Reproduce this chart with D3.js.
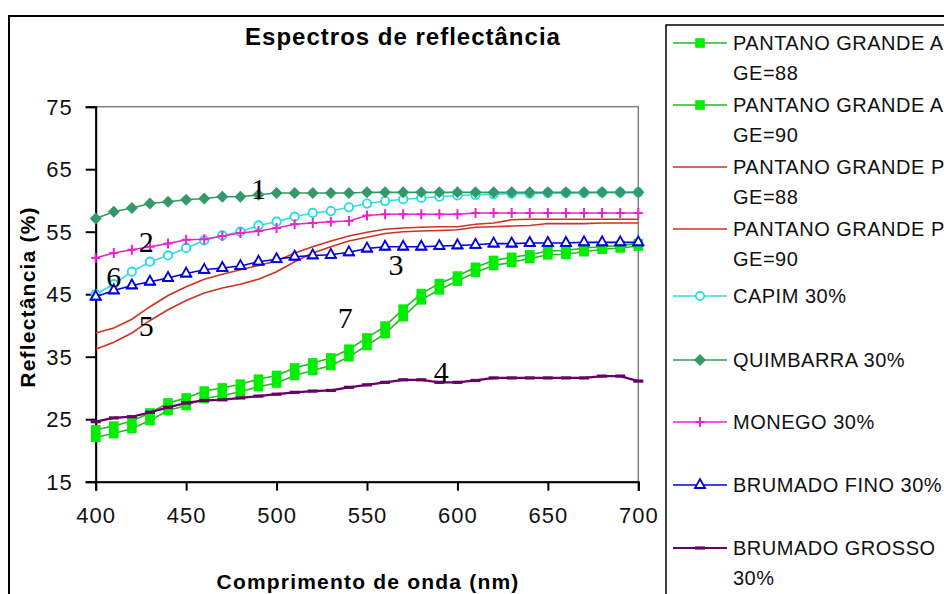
<!DOCTYPE html>
<html><head><meta charset="utf-8">
<script src="https://cdn.jsdelivr.net/npm/d3@7/dist/d3.min.js"></script>
<style>
html,body{margin:0;padding:0;background:#fff;}
svg{display:block;}
</style></head>
<body>
<svg id="chart" width="944" height="594"></svg>
<script>
// ---------------- DATA ----------------
const wavelengths = [400,410,420,430,440,450,460,470,480,490,500,510,520,530,540,550,560,570,580,590,600,610,620,630,640,650,660,670,680,690,700];
const pantanoA88 = [23.3,23.9,24.7,26.0,27.6,28.4,29.5,30.0,30.6,31.4,32.0,33.2,34.0,34.8,36.2,38.0,39.9,42.6,45.1,46.7,47.9,49.3,50.4,50.9,51.3,51.9,52.0,52.4,52.6,52.8,53.1];
const pantanoA90 = [22.1,22.7,23.5,24.8,26.4,27.2,28.3,28.8,29.4,30.2,30.8,32.0,32.8,33.6,35.0,36.8,38.7,41.4,44.1,45.7,47.1,48.5,49.6,50.1,50.7,51.3,51.4,51.8,52.2,52.4,52.7];
const pantanoP88 = [38.8,39.6,41.0,43.0,44.8,46.2,47.4,48.2,48.9,49.6,50.3,51.6,52.6,53.5,54.3,54.9,55.4,55.6,55.7,55.8,55.8,56.2,56.4,56.9,57.0,57.0,57.0,57.0,57.0,57.0,57.0];
const pantanoP90 = [36.2,37.3,38.8,40.8,42.5,44.0,45.2,46.0,46.6,47.4,48.6,50.2,51.6,52.6,53.5,54.1,54.7,55.0,55.1,55.2,55.3,55.7,55.8,55.9,56.0,56.3,56.3,56.3,56.4,56.4,56.4];
const capim = [45.0,46.6,48.6,50.2,51.2,52.4,53.6,54.4,55.0,56.0,56.6,57.4,58.0,58.3,58.9,59.5,59.9,60.2,60.4,60.6,60.8,60.9,61.0,61.1,61.1,61.2,61.2,61.2,61.3,61.3,61.3];
const quimbarra = [57.1,58.2,58.8,59.5,59.8,60.1,60.3,60.6,60.6,60.9,61.2,61.2,61.2,61.2,61.2,61.3,61.3,61.3,61.3,61.3,61.3,61.3,61.3,61.3,61.3,61.3,61.3,61.3,61.3,61.3,61.3];
const monego = [50.8,51.6,52.1,52.6,53.1,53.7,53.8,54.3,54.8,55.1,55.6,56.2,56.4,56.6,56.7,57.6,57.8,57.8,57.8,57.8,57.8,58.0,58.0,58.0,58.0,58.0,58.0,58.0,58.0,58.0,58.0];
const brumadoFino = [44.6,45.6,46.4,47.0,47.6,48.3,48.9,49.2,49.5,50.2,50.6,51.0,51.2,51.3,51.7,52.3,52.6,52.6,52.6,52.7,52.8,52.9,53.1,53.1,53.2,53.2,53.2,53.3,53.3,53.3,53.3];
const brumadoGrosso = [24.6,25.2,25.4,26.1,26.9,27.6,28.0,28.1,28.4,28.7,29.0,29.3,29.5,29.6,30.1,30.5,30.9,31.3,31.3,30.9,30.9,31.2,31.6,31.6,31.6,31.6,31.6,31.6,31.9,31.9,31.1];

const seriesNames = [["PANTANO GRANDE A","GE=88"],["PANTANO GRANDE A","GE=90"],["PANTANO GRANDE P","GE=88"],["PANTANO GRANDE P","GE=90"],["CAPIM 30%"],["QUIMBARRA 30%"],["MONEGO 30%"],["BRUMADO FINO 30%"],["BRUMADO GROSSO","30%"]];
const yTicks = [15,25,35,45,55,65,75];
const xTicks = [400,450,500,550,600,650,700];
const curveLabels = ["1","2","3","4","5","6","7"];
const curveLabelPos = [[490,61.9],[428,53.4],[566,49.8],[591,32.7],[428,40.0],[410,47.8],[538,41.2]];

// ---------------- STYLES ----------------
const styles = [
  {color:"#00ee00", line:"#22bb22", marker:"square"},
  {color:"#00ee00", line:"#22bb22", marker:"square"},
  {color:"#cc3322", line:"#cc3322", marker:"none"},
  {color:"#cc3322", line:"#cc3322", marker:"none"},
  {color:"#22dddd", line:"#33dddd", marker:"circle"},
  {color:"#339966", line:"#339966", marker:"diamond"},
  {color:"#ee22cc", line:"#ee22cc", marker:"plus"},
  {color:"#0000dd", line:"#0000dd", marker:"triangle"},
  {color:"#660066", line:"#660066", marker:"dash"}
];
const allSeries = [pantanoA88,pantanoA90,pantanoP88,pantanoP90,capim,quimbarra,monego,brumadoFino,brumadoGrosso];

const svg = d3.select("#chart");
const FONT = "'Liberation Sans', Arial, sans-serif";

// outer frame
svg.append("rect").attr("x",9).attr("y",16).attr("width",960).attr("height",620)
  .attr("fill","#fff").attr("stroke","#000").attr("stroke-width",2);

const x = d3.scaleLinear().domain([400,700]).range([95.7,638.3]);
const y = d3.scaleLinear().domain([15,75]).range([481.7,106.7]);

// plot area border (gray top/right)
svg.append("rect").attr("x",x(400)).attr("y",y(75)).attr("width",x(700)-x(400)).attr("height",y(15)-y(75))
  .attr("fill","#fff").attr("stroke","#808080").attr("stroke-width",1.5);

// title
svg.append("text").attr("x",403).attr("y",45).attr("text-anchor","middle")
  .attr("font-family",FONT).attr("font-weight","bold").attr("font-size",24).attr("letter-spacing",1)
  .text("Espectros de reflectância");

// axes
const yAxis = d3.axisLeft(y).tickValues(yTicks).tickSize(10).tickPadding(13).tickFormat(d3.format("d"));
const gy = svg.append("g").attr("transform",`translate(${x(400)},0)`).call(yAxis);
const xAxis = d3.axisBottom(x).tickValues(xTicks).tickSize(9).tickPadding(17).tickFormat(d3.format("d"));
const gx = svg.append("g").attr("transform",`translate(0,${y(15)})`).call(xAxis);
[gx,gy].forEach(g=>{
  g.select(".domain").attr("stroke","#000").attr("stroke-width",2);
  g.selectAll(".tick line").attr("stroke","#000").attr("stroke-width",2);
  g.selectAll(".tick text").attr("font-family",FONT).attr("font-size",22).attr("letter-spacing",1).attr("fill","#111");
});
gy.selectAll(".tick text").attr("dy","0.35em");

// axis titles
svg.append("text").attr("x",368).attr("y",589).attr("text-anchor","middle")
  .attr("font-family",FONT).attr("font-weight","bold").attr("font-size",21).attr("letter-spacing",1.2)
  .text("Comprimento de onda (nm)");
svg.append("text").attr("transform","translate(35,297) rotate(-90)").attr("text-anchor","middle")
  .attr("font-family",FONT).attr("font-weight","bold").attr("font-size",21).attr("letter-spacing",1.2)
  .text("Reflectância (%)");

// marker drawer
function drawMarker(g, type, cx, cy, col){
  if(type==="square"){
    g.append("rect").attr("x",cx-4.8).attr("y",cy-4.8).attr("width",9.6).attr("height",9.6).attr("fill",col);
  } else if(type==="circle"){
    g.append("circle").attr("cx",cx).attr("cy",cy).attr("r",4.2).attr("fill","#fff").attr("stroke",col).attr("stroke-width",1.8);
  } else if(type==="diamond"){
    g.append("path").attr("d",`M${cx},${cy-6}L${cx+6},${cy}L${cx},${cy+6}L${cx-6},${cy}Z`).attr("fill",col);
  } else if(type==="plus"){
    g.append("path").attr("d",`M${cx-4.5},${cy}H${cx+4.5}M${cx},${cy-5}V${cy+5}`).attr("stroke",col).attr("stroke-width",2);
  } else if(type==="triangle"){
    g.append("path").attr("d",`M${cx},${cy-6}L${cx+5},${cy+3}L${cx-5},${cy+3}Z`).attr("fill","#fff").attr("stroke",col).attr("stroke-width",1.8);
    g.append("path").attr("d",`M${cx-6},${cy+3}H${cx+6}`).attr("stroke",col).attr("stroke-width",1.8);
  } else if(type==="dash"){
    g.append("rect").attr("x",cx-5).attr("y",cy-1.6).attr("width",10).attr("height",3.2).attr("fill",col);
  }
}

const line = d3.line().x((d,i)=>x(wavelengths[i])).y(d=>y(d));
const plot = svg.append("g");
allSeries.forEach((vals,si)=>{
  const st = styles[si];
  const g = plot.append("g");
  g.append("path").datum(vals).attr("d",line).attr("fill","none").attr("stroke",st.line)
    .attr("stroke-width", st.marker==="dash"?2.2:1.6);
  if(st.marker!=="none"){
    vals.forEach((v,i)=>drawMarker(g, st.marker, x(wavelengths[i]), y(v), st.color));
  }
});

// curve number labels
curveLabels.forEach((t,i)=>{
  svg.append("text").attr("x",x(curveLabelPos[i][0])).attr("y",y(curveLabelPos[i][1]))
    .attr("text-anchor","middle").attr("dy","0.35em")
    .attr("font-family","'Liberation Serif', 'Times New Roman', serif").attr("font-size",30).attr("fill","#000")
    .text(t);
});

// legend
const legendY = [43,105,167,229,296,360,422,485,548];
svg.append("rect").attr("x",666).attr("y",25).attr("width",300).attr("height",600)
  .attr("fill","#fff").attr("stroke","#000").attr("stroke-width",1.5);
seriesNames.forEach((lines,i)=>{
  const st = styles[i];
  const ly = legendY[i];
  const g = svg.append("g");
  g.append("line").attr("x1",673).attr("x2",727).attr("y1",ly).attr("y2",ly).attr("stroke",st.line)
    .attr("stroke-width", st.marker==="dash"?2.2:1.6);
  if(st.marker!=="none") drawMarker(g, st.marker, 700, ly, st.color);
  lines.forEach((t,k)=>{
    g.append("text").attr("x",733).attr("y",ly+k*29.5).attr("dy","0.36em")
      .attr("font-family",FONT).attr("font-size",20).attr("letter-spacing",0.5).attr("fill","#111").text(t);
  });
});
</script>
</body></html>
